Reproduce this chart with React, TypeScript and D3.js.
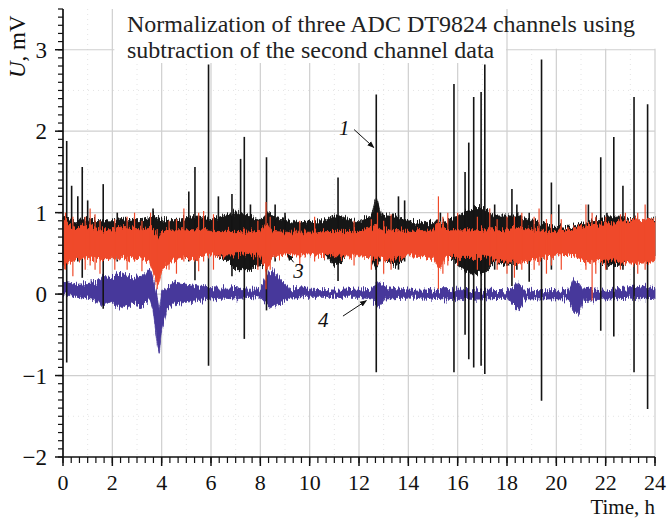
import React from "react";
import * as d3 from "d3";

const xTicks = [0, 2, 4, 6, 8, 10, 12, 14, 16, 18, 20, 22, 24];
const yTicks = [-2, -1, 0, 1, 2, 3];

// channel 1 (black): [hour, low, high]
const ch1Band = [
  [0, 0.45, 0.95], [0.5, 0.5, 0.9], [1, 0.5, 0.92], [1.5, 0.45, 0.9], [2, 0.5, 0.9],
  [2.5, 0.5, 0.92], [3, 0.5, 0.9], [3.5, 0.55, 0.94], [3.65, 0.62, 0.98], [3.8, 0.62, 0.95],
  [4, 0.55, 0.92], [4.5, 0.5, 0.9], [5, 0.45, 0.94], [5.5, 0.45, 0.96], [6, 0.5, 0.92],
  [6.5, 0.45, 0.96], [7, 0.3, 1.0], [7.5, 0.3, 0.96], [8, 0.35, 0.9], [8.3, 0.35, 1.0],
  [8.6, 0.5, 0.94], [9, 0.55, 0.92], [9.5, 0.55, 0.88], [10, 0.55, 0.9], [10.5, 0.5, 0.9],
  [11, 0.35, 0.96], [11.3, 0.4, 0.96], [11.5, 0.5, 0.92], [12, 0.5, 0.9], [12.5, 0.45, 0.96],
  [12.7, 0.3, 1.2], [12.9, 0.45, 0.96], [13.5, 0.35, 0.96], [14, 0.5, 0.9], [14.5, 0.5, 0.88],
  [15, 0.5, 0.88], [15.5, 0.5, 0.9], [16, 0.35, 0.96], [16.5, 0.25, 1.05], [17, 0.25, 1.05],
  [17.5, 0.4, 0.96], [18, 0.35, 0.96], [18.5, 0.4, 0.96], [19, 0.45, 0.9], [19.5, 0.5, 0.86],
  [20, 0.62, 0.83], [20.5, 0.62, 0.82], [21, 0.55, 0.86], [21.5, 0.45, 0.92], [22, 0.35, 0.94],
  [22.5, 0.35, 0.96], [23, 0.4, 0.92], [23.5, 0.4, 0.92], [24, 0.45, 0.92],
];

// channel 1 spikes: [hour, low, high]
const ch1Spikes = [
  [0.15, -0.84, 1.88], [0.35, 0.45, 1.33], [0.6, 0.4, 1.2], [0.78, 0.2, 1.56], [1.0, 0.45, 1.15],
  [1.63, -0.18, 1.35], [2.2, 0.4, 1.0], [3.65, 0.6, 1.05], [5.1, 0.4, 1.26], [5.35, 0.17, 1.56],
  [5.9, -0.88, 2.82], [6.3, 0.5, 1.2], [6.85, 0.22, 1.23], [7.2, 0.5, 1.66], [7.35, -0.55, 1.93],
  [7.6, 0.3, 1.1], [8.25, -0.2, 1.68], [8.6, 0.4, 1.1], [9.0, 0.55, 1.0], [11.15, 0.16, 1.43],
  [12.7, -0.96, 2.45], [12.95, 0.5, 1.0], [13.6, 0.3, 1.2], [13.85, 0.4, 1.15], [15.3, 0.45, 1.0],
  [15.85, -0.96, 2.58], [16.3, -0.5, 1.5], [16.45, -0.8, 1.86], [16.65, -0.9, 2.42], [16.95, -0.88, 2.48],
  [17.1, -0.98, 2.82], [17.5, 0.3, 1.1], [18.2, 0.1, 1.29], [18.4, 0.3, 1.1], [18.9, 0.15, 1.0],
  [19.4, -1.31, 2.88], [19.8, 0.3, 1.37], [20.1, 0.5, 1.1], [21.3, 0.4, 1.1], [21.8, -0.45, 1.68],
  [22.05, 0.3, 1.0], [22.33, -0.52, 1.93], [22.7, 0.3, 1.33], [23.15, -0.96, 2.42], [23.7, -1.41, 2.33],
];

// channel 3 (red): [hour, low, high]
const ch3Band = [
  [0, 0.35, 0.9], [0.5, 0.42, 0.82], [1, 0.45, 0.82], [1.5, 0.42, 0.79], [2, 0.45, 0.79],
  [2.5, 0.42, 0.82], [3, 0.45, 0.79], [3.5, 0.42, 0.82], [3.7, 0.2, 0.76], [3.85, 0.1, 0.7],
  [4, 0.3, 0.77], [4.5, 0.42, 0.79], [5, 0.45, 0.79], [5.5, 0.42, 0.79], [6, 0.48, 0.77],
  [6.5, 0.48, 0.77], [7, 0.48, 0.77], [7.5, 0.5, 0.76], [8, 0.45, 0.77], [8.25, 0.3, 0.88],
  [8.5, 0.45, 0.77], [9, 0.48, 0.76], [10, 0.48, 0.76], [11, 0.47, 0.77], [12, 0.47, 0.77],
  [12.7, 0.45, 0.82], [13, 0.42, 0.79], [14, 0.47, 0.77], [15, 0.45, 0.79], [15.25, 0.3, 0.88],
  [15.5, 0.45, 0.79], [16, 0.45, 0.79], [17, 0.45, 0.79], [18, 0.4, 0.79], [18.5, 0.38, 0.82],
  [19, 0.42, 0.79], [19.5, 0.45, 0.77], [20, 0.48, 0.77], [20.5, 0.48, 0.79], [21, 0.42, 0.82],
  [21.5, 0.38, 0.86], [22, 0.42, 0.86], [22.5, 0.4, 0.88], [23, 0.38, 0.9], [23.5, 0.38, 0.93],
  [24, 0.4, 0.9],
];

// channel 3 spikes: [hour, low, high]
const ch3Spikes = [
  [0.1, 0.3, 1.0], [0.4, 0.22, 0.95], [0.9, 0.3, 0.95], [1.1, 0.35, 1.05], [1.3, 0.3, 0.98],
  [1.5, 0.25, 0.9], [2.1, 0.3, 0.92], [2.6, 0.3, 0.95], [2.9, 0.4, 1.0], [3.2, 0.28, 0.9],
  [3.55, 0.35, 1.0], [3.82, 0.06, 0.8], [4.3, 0.3, 0.9], [4.6, 0.25, 0.92], [4.9, 0.4, 1.05],
  [5.5, 0.28, 1.0], [5.7, 0.4, 1.02], [6.1, 0.3, 0.98], [7.9, 0.3, 0.9], [8.23, 0.06, 1.13],
  [8.4, 0.3, 0.95], [9.6, 0.35, 0.9], [10.2, 0.4, 0.95], [11.8, 0.35, 0.9], [12.5, 0.3, 0.92],
  [12.75, 0.35, 1.0], [13.0, 0.25, 0.9], [13.3, 0.3, 0.98], [15.22, 0.06, 1.2], [15.4, 0.25, 0.95],
  [15.6, 0.35, 1.0], [16.0, 0.35, 1.0], [16.8, 0.3, 0.95], [17.3, 0.35, 1.05], [17.6, 0.3, 0.92],
  [18.0, 0.25, 0.95], [18.3, 0.2, 0.95], [18.6, 0.3, 1.0], [19.1, 0.3, 0.95], [19.3, 0.35, 1.05],
  [19.6, 0.25, 0.92], [19.8, 0.35, 0.98], [20.2, 0.3, 0.92], [21.2, 0.3, 1.1], [21.45, -0.08, 1.0],
  [21.6, 0.25, 0.95], [22.0, 0.3, 0.95], [22.6, 0.3, 0.98], [22.8, 0.35, 1.0], [23.3, 0.25, 1.0],
  [23.6, 0.3, 1.1],
];

// channel 4 (blue): [hour, low, high]
const ch4Band = [
  [0, -0.02, 0.15], [0.5, -0.04, 0.12], [1.0, -0.05, 0.13], [1.4, -0.08, 0.15], [1.6, -0.15, 0.22],
  [2.0, -0.1, 0.2], [2.4, -0.18, 0.26], [2.8, -0.12, 0.2], [3.2, -0.15, 0.22], [3.5, -0.05, 0.3],
  [3.65, -0.2, 0.18], [3.8, -0.55, 0.0], [3.9, -0.74, -0.2], [4.0, -0.45, 0.02], [4.2, -0.2, 0.1],
  [4.5, -0.12, 0.15], [5.0, -0.1, 0.12], [5.5, -0.08, 0.1], [6.0, -0.06, 0.08], [6.5, -0.05, 0.07],
  [7.0, -0.06, 0.08], [7.5, -0.04, 0.06], [8.0, -0.05, 0.06], [8.3, -0.15, 0.25], [8.5, -0.18, 0.3],
  [8.8, -0.12, 0.18], [9.2, -0.05, 0.07], [10, -0.04, 0.06], [11, -0.04, 0.05], [12, -0.04, 0.05],
  [12.5, -0.06, 0.06], [12.8, -0.16, 0.15], [13.1, -0.06, 0.08], [14, -0.05, 0.05], [15, -0.05, 0.05],
  [16, -0.07, 0.06], [17, -0.06, 0.05], [18, -0.05, 0.04], [18.3, -0.15, 0.1], [18.45, -0.2, 0.14],
  [18.7, -0.06, 0.05], [19.5, -0.06, 0.04], [20.5, -0.06, 0.05], [20.7, -0.2, 0.18], [20.9, -0.26, 0.14],
  [21.1, -0.08, 0.05], [22, -0.06, 0.05], [23, -0.05, 0.08], [23.5, -0.06, 0.1], [24, -0.05, 0.08],
];

// curve labels: [text, hour, value, arrow from hour, from value, to hour, to value]
const curveLabels: [string, number, number, number, number, number, number][] = [
  ["1", 11.4, 1.95, 11.8, 2.02, 12.6, 1.8],
  ["3", 9.55, 0.2, 9.35, 0.39, 9.1, 0.49],
  ["4", 10.55, -0.4, 11.35, -0.27, 12.3, -0.08],
];

const titleLines = [
  "Normalization of three ADC DT9824 channels using",
  "subtraction of the second channel data",
];

const BLACK = "#141414";
const RED = "#ef4a2a";
const BLUE = "#46399b";
const FONT = "Liberation Serif, Times New Roman, serif";

function App() {
  const x = d3.scaleLinear().domain([0, 24]).range([63, 655]);
  const y = d3.scaleLinear().domain([-2, 3.5]).range([457, 9]);

  const band = d3
    .area<number[]>()
    .x((d) => x(d[0]))
    .y0((d) => y(d[1]))
    .y1((d) => y(d[2]));

  const minorX = d3.range(0, 24.001, 1 / 3);
  const minorY = d3.range(-2, 3.501, 0.1);
  const dotX = d3.range(1, 24, 2);
  const dotY = d3.range(-1.5, 3.5, 1);

  const spikes = (list: number[][], color: string, w: number) =>
    list.map((s, i) => (
      <line key={i} x1={x(s[0])} x2={x(s[0])} y1={y(s[1])} y2={y(s[2])} stroke={color} strokeWidth={w} />
    ));

  return (
    <svg width={671} height={519} style={{ position: "absolute", left: 0, top: 0, background: "#fff" }}>
      <defs>
        <marker id="arr" viewBox="0 0 10 10" refX="9" refY="5" markerWidth="7" markerHeight="7" orient="auto">
          <path d="M0,1 L10,5 L0,9 Z" fill="#111" />
        </marker>
        {/* signal texture: vertical jitter of the band edges */}
        <filter id="fuzz" filterUnits="userSpaceOnUse" x="0" y="0" width="671" height="519">
          <feTurbulence type="fractalNoise" baseFrequency="0.9 0.06" numOctaves="2" seed="3" result="n" />
          <feColorMatrix
            in="n"
            type="matrix"
            values="0 0 0 0 0.5  0 1 0 0 0  0 0 1 0 0  0 0 0 0 1"
            result="m"
          />
          <feDisplacementMap in="SourceGraphic" in2="m" scale="14" xChannelSelector="R" yChannelSelector="G" />
        </filter>
      </defs>

      {/* faint dotted grid */}
      {dotX.map((t) => (
        <line key={"dx" + t} x1={x(t)} x2={x(t)} y1={y(3.5)} y2={y(-2)} stroke="#e4e4e4" strokeDasharray="1,4" />
      ))}
      {dotY.map((v) => (
        <line key={"dy" + v} x1={x(0)} x2={x(24)} y1={y(v)} y2={y(v)} stroke="#e4e4e4" strokeDasharray="1,4" />
      ))}
      {/* main grid */}
      {xTicks.slice(1).map((t) => (
        <line key={"gx" + t} x1={x(t)} x2={x(t)} y1={y(3.5)} y2={y(-2)} stroke="#cfcfcf" strokeWidth={1.2} />
      ))}
      {yTicks.slice(1).map((v) => (
        <line key={"gy" + v} x1={x(0)} x2={x(24)} y1={y(v)} y2={y(v)} stroke="#cfcfcf" strokeWidth={1.2} />
      ))}
      {/* title background */}
      <rect x={x(2) + 2} y={0} width={x(18) - x(2) - 3} height={63} fill="#fff" />
      <rect x={x(18) + 1} y={0} width={671 - x(18)} height={y(3) - 1} fill="#fff" />

      {/* data */}
      <g filter="url(#fuzz)">
        <path d={band(ch4Band) || ""} fill={BLUE} stroke={BLUE} strokeWidth={0.8} />
        <path d={band(ch1Band) || ""} fill={BLACK} stroke={BLACK} strokeWidth={0.8} />
      </g>
      {spikes(ch1Spikes, BLACK, 1.6)}
      <g filter="url(#fuzz)">
        <path d={band(ch3Band) || ""} fill={RED} stroke={RED} strokeWidth={0.8} />
      </g>
      {spikes(ch3Spikes, RED, 1.2)}

      {/* axes */}
      <line x1={x(0)} x2={x(0)} y1={y(3.5)} y2={y(-2)} stroke="#111" strokeWidth={1.7} />
      <line x1={x(0)} x2={x(24)} y1={y(-2)} y2={y(-2)} stroke="#111" strokeWidth={1.7} />
      {minorY.map((v, i) => (
        <line key={"my" + i} x1={x(0) - 5} x2={x(0)} y1={y(v)} y2={y(v)} stroke="#111" strokeWidth={1.2} />
      ))}
      {minorX.map((t, i) => (
        <line key={"mx" + i} x1={x(t)} x2={x(t)} y1={y(-2)} y2={y(-2) + 6} stroke="#111" strokeWidth={1.2} />
      ))}
      {yTicks.map((v) => (
        <g key={"ty" + v}>
          <line x1={x(0) - 8} x2={x(0)} y1={y(v)} y2={y(v)} stroke="#111" strokeWidth={1.5} />
          <text x={47} y={y(v)} dy="0.35em" textAnchor="end" fontFamily={FONT} fontSize={23} fill="#111">
            {v < 0 ? "\u2212" + Math.abs(v) : v}
          </text>
        </g>
      ))}
      {xTicks.map((t) => (
        <g key={"tx" + t}>
          <line x1={x(t)} x2={x(t)} y1={y(-2)} y2={y(-2) + 9} stroke="#111" strokeWidth={1.5} />
          <text x={x(t)} y={490} textAnchor="middle" fontFamily={FONT} fontSize={22} fill="#111">
            {t}
          </text>
        </g>
      ))}
      <text x={655} y={514} textAnchor="end" fontFamily={FONT} fontSize={21} fill="#111">
        Time, h
      </text>
      <text transform="translate(25,78) rotate(-90)" fontFamily={FONT} fontSize={23} fill="#111">
        <tspan fontStyle="italic">U</tspan>, mV
      </text>

      {/* title */}
      {titleLines.map((s, i) => (
        <text key={i} x={127} y={32 + i * 26} fontFamily={FONT} fontSize={24} fill="#222">
          {s}
        </text>
      ))}

      {/* curve labels */}
      {curveLabels.map((c) => (
        <g key={c[0]}>
          <text x={x(c[1])} y={y(c[2])} textAnchor="middle" fontFamily={FONT} fontStyle="italic" fontSize={21} fill="#111">
            {c[0]}
          </text>
          <line x1={x(c[3])} y1={y(c[4])} x2={x(c[5])} y2={y(c[6])} stroke="#111" strokeWidth={1} markerEnd="url(#arr)" />
        </g>
      ))}
    </svg>
  );
}

export default App;
